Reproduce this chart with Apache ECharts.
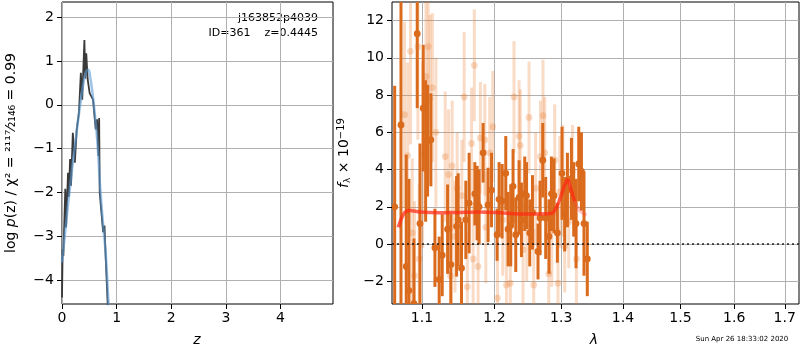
<!DOCTYPE html>
<html>
<head>
<meta charset="utf-8">
<script src="https://cdn.jsdelivr.net/npm/echarts@6/dist/echarts.min.js"></script>
<style>
  html, body { margin: 0; padding: 0; background: #fff; }
  #chart { width: 800px; height: 350px; }
</style>
</head>
<body>
<div id="chart"></div>
<script>
// left panel: log p(z)
const pzZ = [0.000, 0.012, 0.025, 0.060, 0.075, 0.086, 0.110, 0.125, 0.148, 0.165, 0.198, 0.235, 0.270, 0.310, 0.345, 0.370, 0.410, 0.425, 0.444, 0.470, 0.506, 0.568, 0.617, 0.642, 0.667, 0.680, 0.690, 0.753, 0.778, 0.790, 0.852]
const pzLog = [-4.4, -3.3, -3.45, -1.92, -2.8, -2.76, -1.55, -2.1, -1.24, -1.85, -0.64, -1.32, -0.56, -0.18, 0.73, 0.12, 1.48, 0.6, 1.18, 0.58, 0.27, 0.12, -0.56, -0.33, -1.17, -0.3, -2.0, -2.91, -2.76, -3.2, -5.0]
const fitZ = [0, 0.05, 0.1, 0.15, 0.2, 0.25, 0.3, 0.35, 0.4, 0.45, 0.48, 0.52, 0.56, 0.6, 0.65, 0.7, 0.75, 0.8, 0.85, 0.9]
const fitLog = [-3.6, -3.0, -2.4, -1.85, -1.3, -0.8, -0.3, 0.15, 0.55, 0.78, 0.8, 0.6, 0.25, -0.2, -0.9, -1.9, -2.7, -3.4, -4.5, -5.5]
const zTicks = [0, 1, 2, 3, 4]
const logTicks = [-4, -3, -2, -1, 0, 1, 2]

// right panel: spectrum
const darkLam = [1.0646, 1.0727, 1.0795, 1.0830, 1.0895, 1.0938, 1.0974, 1.1017, 1.1049, 1.1075, 1.1119, 1.1173, 1.1230, 1.1271, 1.1344, 1.1389, 1.1467, 1.1489, 1.1535, 1.1595, 1.1641, 1.1721, 1.1753, 1.1781, 1.1838, 1.1909, 1.1958, 1.2038, 1.2067, 1.2110, 1.2164, 1.2198, 1.2237, 1.2271, 1.2311, 1.2360, 1.2395, 1.2444, 1.2470, 1.2519, 1.2560, 1.2644, 1.2675, 1.2716, 1.2761, 1.2812, 1.2849, 1.2889, 1.2941, 1.3013, 1.3055, 1.3098, 1.3161, 1.3197, 1.3234, 1.3277, 1.3320, 1.3361, 1.3414]
const darkFlux = [2.0, 6.4, -1.2, -2.5, -3.2, 11.3, 1.1, 7.3, 5.0, 5.55, 5.6, -0.2, -1.9, -0.6, 0.8, -1.1, 0.95, 1.3, -1.3, 1.3, 2.2, 2.7, 2.2, 2.0, 4.9, 2.1, 2.9, 0.5, 2.4, 2.3, 3.8, 0.8, 1.0, 3.1, 0.5, 2.5, 1.3, 2.7, 2.6, 0.6, 1.7, -0.4, 1.4, 4.5, 1.4, 0.4, 2.7, 2.6, 0.6, 3.8, 1.6, 2.9, 3.5, 2.4, 1.1, 4.3, 3.9, 1.1, -0.8]
const darkErr = [6.5, 10, 6, 6, 3.5, 4, 4.3, 3.4, 3.8, 3.0, 2.5, 2.1, 2.3, 2.2, 2.4, 2.7, 2.7, 2.5, 2.5, 2.1, 2.7, 1.7, 2.0, 2.0, 1.6, 2.0, 2.0, 1.4, 2.0, 2.0, 2.0, 2.0, 2.2, 2.0, 2.0, 2.0, 2.0, 2.0, 1.8, 1.8, 2.0, 1.5, 2.0, 2.0, 2.2, 2.0, 2.0, 2.0, 1.6, 2.5, 2.0, 2.0, 2.2, 2.0, 2.4, 2.0, 2.1, 2.8, 2.0]
const lightLam = [1.0772, 1.0813, 1.0850, 1.0873, 1.0902, 1.0947, 1.0964, 1.1009, 1.1053, 1.1083, 1.1106, 1.1139, 1.1186, 1.1312, 1.1357, 1.1382, 1.1406, 1.1445, 1.1475, 1.1540, 1.1572, 1.1616, 1.1675, 1.1697, 1.1714, 1.1767, 1.1799, 1.1862, 1.1876, 1.1932, 1.1976, 1.2044, 1.2120, 1.2173, 1.2230, 1.2285, 1.2360, 1.2378, 1.2419, 1.2474, 1.2508, 1.2579, 1.2608, 1.2681, 1.2720, 1.2746, 1.2807, 1.2854, 1.2900, 1.2951, 1.2977, 1.3028, 1.3055, 1.3118, 1.3177, 1.3240]
const lightFlux = [6.95, 4.75, 10.35, 0.6, -1.7, 10.6, -0.8, 4.8, 9.0, 10.6, 7.8, 8.4, 6.0, 4.7, 3.73, -1.7, 4.2, 0.4, 3.0, 2.6, 7.9, -2.3, 5.4, -0.8, 9.6, -1.2, 5.7, 5.6, 0.9, 4.9, 6.3, -2.9, 1.3, -2.2, -2.1, 7.9, 5.8, 5.3, -0.3, 1.0, 6.8, -2.2, 3.0, 4.7, 6.9, 4.9, -1.6, 0.7, 4.5, -2.1, 2.8, 3.4, -0.1, 1.2, 3.9, -0.8]
const lightErr = [5, 5, 5, 4, 4, 5, 4, 5, 5, 4, 4.5, 4, 4, 3.5, 3.5, 3.5, 3.5, 3, 3, 3, 3.5, 3, 3, 3, 3, 3, 3, 3, 3, 3, 3, 3, 3, 3, 3, 3, 3, 3, 3, 3, 3, 3, 3, 3, 3, 3, 3, 3, 3, 3, 3, 3, 2.5, 2.5, 2.5, 2.5]
const modelLam = [1.0692, 1.0735, 1.0778, 1.0843, 1.0974, 1.1240, 1.1512, 1.1791, 1.2077, 1.2370, 1.2670, 1.2853, 1.2930, 1.3008, 1.3070, 1.3102, 1.3149, 1.3212]
const modelFlux = [0.9, 1.4, 1.7, 1.8, 1.72, 1.68, 1.7, 1.72, 1.68, 1.62, 1.62, 1.65, 2.0, 2.7, 3.3, 3.45, 3.0, 2.3]
const tailLam = [1.3212, 1.3291, 1.3403]
const tailFlux = [2.3, 1.8, 1.55]
const lamTicks = [1.1, 1.2, 1.3, 1.4, 1.5, 1.6, 1.7]
const fluxTicks = [-2, 0, 2, 4, 6, 8, 10, 12]

const fMin = -3.22, fMax = 13.0

const zip = (a, b, c) => a.map((v, i) => c ? [v, b[i], c[i]] : [v, b[i]])

const errorBars = (color, radius) => (params, api) => {
  const x = api.value(0), y = api.value(1), e = api.value(2)
  const lo = api.coord([x, Math.max(y - e, fMin)])
  const hi = api.coord([x, Math.min(y + e, fMax)])
  const children = [{
    type: 'line',
    shape: { x1: lo[0], y1: lo[1], x2: hi[0], y2: hi[1] },
    style: { stroke: color, lineWidth: 3 }
  }]
  if (y >= fMin && y <= fMax) {
    const c = api.coord([x, y])
    children.push({ type: 'circle', shape: { cx: c[0], cy: c[1], r: radius }, style: { fill: color } })
  }
  return { type: 'group', children }
}

const font = 'DejaVu Sans'
const gridLine = { show: true, lineStyle: { color: '#b0b0b0', width: 1 } }
const tick = { show: true, length: 5, inside: false, lineStyle: { color: '#000', width: 1 } }
const label = { color: '#000', fontFamily: font, fontSize: 14 }
const noLine = { show: false, onZero: false }

const chart = echarts.init(document.getElementById('chart'), null, { renderer: 'canvas' })

chart.setOption({
  animation: false,
  backgroundColor: '#fff',
  textStyle: { fontFamily: font },
  grid: [
    { left: 62, top: 2, width: 271, height: 302, show: true, borderColor: '#000', borderWidth: 1, backgroundColor: 'transparent' },
    { left: 392, top: 2, width: 407, height: 302, show: true, borderColor: '#000', borderWidth: 1, backgroundColor: 'transparent' }
  ],
  xAxis: [
    {
      gridIndex: 0, type: 'value', min: 0, max: 4.96, position: 'bottom',
      axisLine: noLine,
      axisTick: { ...tick, customValues: zTicks },
      axisLabel: { ...label, margin: 7, customValues: zTicks },
      splitLine: gridLine
    },
    {
      gridIndex: 1, type: 'log', logBase: 10, min: 1.0612, max: 1.7293, position: 'bottom',
      axisLine: noLine,
      axisTick: { ...tick, customValues: lamTicks },
      axisLabel: { ...label, margin: 7, customValues: lamTicks, formatter: v => v.toFixed(1) },
      splitLine: gridLine,
      minorTick: { show: false }, minorSplitLine: { show: false }
    }
  ],
  yAxis: [
    {
      gridIndex: 0, type: 'value', min: -4.55, max: 2.35, position: 'left',
      axisLine: noLine,
      axisTick: { ...tick, customValues: logTicks },
      axisLabel: { ...label, margin: 8, customValues: logTicks, formatter: v => String(v).replace('-', '\u2212') },
      splitLine: gridLine
    },
    {
      gridIndex: 1, type: 'value', min: fMin, max: fMax, position: 'left',
      axisLine: noLine,
      axisTick: { ...tick, customValues: fluxTicks },
      axisLabel: { ...label, margin: 8, customValues: fluxTicks, formatter: v => String(v).replace('-', '\u2212') },
      splitLine: gridLine
    }
  ],
  series: [
    {
      type: 'line', xAxisIndex: 0, yAxisIndex: 0, data: zip(pzZ, pzLog),
      symbol: 'none', lineStyle: { color: '#3a3a3a', width: 1.8 }, clip: true, z: 2
    },
    {
      type: 'line', xAxisIndex: 0, yAxisIndex: 0, data: zip(fitZ, fitLog), smooth: true,
      symbol: 'none', lineStyle: { color: '#5a9bd5', width: 2.5, opacity: 0.6 }, clip: true, z: 3
    },
    {
      type: 'custom', xAxisIndex: 1, yAxisIndex: 1, clip: true, z: 2,
      data: zip(lightLam, lightFlux, lightErr),
      renderItem: errorBars('rgba(232,126,50,0.28)', 3.4)
    },
    {
      type: 'custom', xAxisIndex: 1, yAxisIndex: 1, clip: true, z: 3,
      data: zip(darkLam, darkFlux, darkErr),
      renderItem: errorBars('#da6a1c', 3.4)
    },
    {
      type: 'line', xAxisIndex: 1, yAxisIndex: 1, data: zip(modelLam, modelFlux), smooth: 0.3,
      symbol: 'none', lineStyle: { color: 'rgba(255,40,20,0.72)', width: 3.5 }, z: 4,
      markLine: {
        silent: true, symbol: 'none', label: { show: false },
        lineStyle: { color: '#000', type: [2, 3], width: 1.6, opacity: 0.85 },
        data: [{ yAxis: 0 }]
      }
    },
    {
      type: 'line', xAxisIndex: 1, yAxisIndex: 1, data: zip(tailLam, tailFlux), smooth: 0.3,
      symbol: 'none', lineStyle: { color: 'rgba(255,60,60,0.3)', width: 3.5 }, z: 4
    }
  ],
  graphic: [
    { type: 'text', right: 482, top: 13, style: { text: 'j163852p4039', font: '11px DejaVu Sans', fill: '#000', textAlign: 'right' } },
    { type: 'text', right: 482, top: 28, style: { text: 'ID=361    z=0.4445', font: '11px DejaVu Sans', fill: '#000', textAlign: 'right' } },
    {
      type: 'text', x: 4, y: 153, rotation: Math.PI / 2,
      style: {
        text: 'log {it|p}(z) / χ² = {sm|²¹¹⁷⁄₂₁₄₆} = 0.99', fill: '#000', font: '14px DejaVu Sans',
        textAlign: 'center', textVerticalAlign: 'top',
        rich: { it: { fontStyle: 'italic', fontSize: 14, fontFamily: font }, sm: { fontSize: 14, fontFamily: font } }
      }
    },
    {
      type: 'text', x: 336, y: 153, rotation: Math.PI / 2,
      style: {
        text: '{it|f}{sub|λ} × 10{sup|−19}', fill: '#000', font: '14px DejaVu Sans',
        textAlign: 'center', textVerticalAlign: 'top',
        rich: {
          it: { fontStyle: 'italic', fontSize: 14, fontFamily: font },
          sub: { fontSize: 9, fontFamily: font, verticalAlign: 'bottom', padding: [6, 0, 0, 0] },
          sup: { fontSize: 10, fontFamily: font, verticalAlign: 'top', padding: [0, 0, 6, 0] }
        }
      }
    },
    { type: 'text', x: 197, y: 333, style: { text: 'z', font: 'italic 14px DejaVu Sans', fill: '#000', textAlign: 'center' } },
    { type: 'text', x: 594, y: 333, style: { text: 'λ', font: 'italic 14px DejaVu Sans', fill: '#000', textAlign: 'center' } },
    { type: 'text', x: 742, y: 336, style: { text: 'Sun Apr 26 18:33:02 2020', font: '7px DejaVu Sans', fill: '#000', textAlign: 'center' } }
  ]
})
</script>
</body>
</html>
